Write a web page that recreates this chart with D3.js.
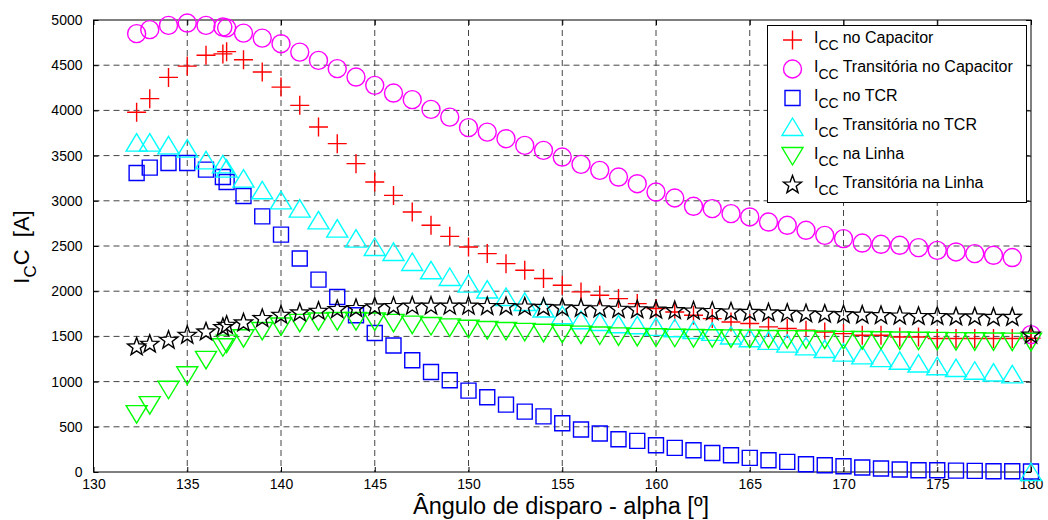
<!DOCTYPE html>
<html>
<head>
<meta charset="utf-8">
<script src="https://cdn.jsdelivr.net/npm/d3@7"></script>
<style>
  body { margin: 0; background: #fff; }
  svg { display: block; font-family: "Liberation Sans", Arial, sans-serif; }
  .grid line { stroke: #444; stroke-dasharray: 6,4; stroke-width: 1; }
  .tick text { font-size: 14px; fill: #000; }
</style>
</head>
<body>
<svg id="chart" width="1048" height="520"></svg>
<script>
// firing angle (deg)
var angles = [132.3, 133, 134, 135, 136, 136.9, 137.1, 138, 139, 140, 141, 142, 143, 144, 145, 146, 147, 148, 149, 150,
  151, 152, 153, 154, 155, 156, 157, 158, 159, 160, 161, 162, 163, 164, 165, 166, 167, 168, 169, 170,
  171, 172, 173, 174, 175, 176, 177, 178, 179, 180]

var iccCapacitor = [3980, 4130, 4365, 4490, 4610, 4625, 4650, 4560, 4424, 4258, 4056, 3816, 3632, 3411, 3208, 3060, 2876, 2729, 2607, 2489,
  2416, 2305, 2231, 2140, 2065, 1992, 1955, 1918, 1863, 1808, 1770, 1734, 1697, 1660, 1642, 1605, 1587, 1568, 1549, 1531,
  1512, 1512, 1494, 1494, 1476, 1476, 1476, 1476, 1476, 1480]

var iccTransCapacitor = [4849, 4893, 4940, 4966, 4940, 4922, 4913, 4855, 4800, 4738, 4645, 4553, 4462, 4369, 4277, 4192, 4119, 4011, 3926, 3809,
  3760, 3687, 3613, 3558, 3484, 3403, 3337, 3263, 3189, 3097, 3031, 2939, 2913, 2858, 2821, 2765, 2729, 2674, 2618, 2582,
  2533, 2519, 2508, 2482, 2452, 2434, 2416, 2397, 2372, 1520]

var iccTcr = [3307, 3367, 3418, 3418, 3345, 3263, 3208, 3053, 2828, 2626, 2361, 2128, 1936, 1734, 1538, 1400, 1237, 1107, 1015, 900,
  827, 745, 668, 615, 540, 470, 426, 363, 344, 296, 267, 241, 211, 186, 156, 130, 112, 86, 75, 64,
  50, 39, 28, 20, 20, 15, 12, 8, 8, 5]

var iccTransTcr = [3643, 3643, 3613, 3577, 3447, 3403, 3356, 3245, 3116, 3005, 2913, 2784, 2692, 2582, 2489, 2434, 2323, 2231, 2157, 2084,
  2018, 1936, 1881, 1808, 1734, 1679, 1660, 1634, 1623, 1605, 1590, 1570, 1550, 1510, 1480, 1450, 1420, 1390, 1360, 1320,
  1290, 1260, 1230, 1200, 1170, 1150, 1120, 1100, 1080, 0]

var iccLinha = [640, 740, 910, 1070, 1240, 1380, 1420, 1480, 1560, 1610, 1650, 1665, 1670, 1670, 1665, 1650, 1630, 1615, 1600, 1585,
  1570, 1560, 1550, 1540, 1530, 1520, 1510, 1500, 1495, 1490, 1485, 1482, 1480, 1478, 1475, 1472, 1470, 1468, 1465, 1462,
  1460, 1458, 1455, 1452, 1450, 1448, 1446, 1444, 1442, 1440]

var iccTransLinha = [1383, 1413, 1457, 1512, 1549, 1598, 1623, 1649, 1697, 1734, 1760, 1778, 1797, 1808, 1826, 1830, 1835, 1835, 1835, 1835,
  1830, 1830, 1825, 1820, 1815, 1810, 1805, 1800, 1795, 1790, 1785, 1780, 1775, 1770, 1765, 1760, 1755, 1750, 1745, 1740,
  1735, 1730, 1725, 1720, 1720, 1715, 1715, 1710, 1710, 1515]

var seriesNames = ['no Capacitor', 'Transitória no Capacitor', 'no TCR', 'Transitória no TCR', 'na Linha', 'Transitória na Linha']
var seriesColors = ['#ff0000', '#ff00ff', '#0000ff', '#00ffff', '#00ff00', '#000000']
var seriesMarkers = ['plus', 'circle', 'square', 'up', 'down', 'star']
var seriesValues = [iccCapacitor, iccTransCapacitor, iccTcr, iccTransTcr, iccLinha, iccTransLinha]

var xTicks = [130, 135, 140, 145, 150, 155, 160, 165, 170, 175, 180]
var yTicks = [0, 500, 1000, 1500, 2000, 2500, 3000, 3500, 4000, 4500, 5000]

var margin = { left: 93.5, right: 1031, top: 20, bottom: 472 }
var svg = d3.select('#chart')

var x = d3.scaleLinear().domain([130, 180]).range([margin.left, margin.right])
var y = d3.scaleLinear().domain([0, 5000]).range([margin.bottom, margin.top])

// marker path by type, centred on 0,0
function markerPath (type) {
  var p = d3.path()
  if (type === 'plus') {
    p.moveTo(-9.5, 0); p.lineTo(9.5, 0); p.moveTo(0, -9.5); p.lineTo(0, 9.5)
  } else if (type === 'circle') {
    p.arc(0, 0, 9, 0, 2 * Math.PI)
  } else if (type === 'square') {
    p.rect(-7.5, -7.5, 15, 15)
  } else if (type === 'up') {
    p.moveTo(0, -9); p.lineTo(10.5, 8.5); p.lineTo(-10.5, 8.5); p.closePath()
  } else if (type === 'down') {
    p.moveTo(0, 9); p.lineTo(10.5, -8.5); p.lineTo(-10.5, -8.5); p.closePath()
  } else if (type === 'star') {
    for (var i = 0; i < 10; i++) {
      var r = i % 2 === 0 ? 9.5 : 3.9
      var a = -Math.PI / 2 + i * Math.PI / 5
      if (i === 0) p.moveTo(r * Math.cos(a), r * Math.sin(a))
      else p.lineTo(r * Math.cos(a), r * Math.sin(a))
    }
    p.closePath()
  }
  return p.toString()
}

// grid
var grid = svg.append('g').attr('class', 'grid')
grid.selectAll('.gx').data(xTicks.slice(1, -1)).enter().append('line')
  .attr('x1', d => x(d)).attr('x2', d => x(d)).attr('y1', margin.top).attr('y2', margin.bottom)
grid.selectAll('.gy').data(yTicks.slice(1, -1)).enter().append('line')
  .attr('x1', margin.left).attr('x2', margin.right).attr('y1', d => y(d)).attr('y2', d => y(d))

// axes
var xAxis = d3.axisBottom(x).tickValues(xTicks).tickSizeInner(-5).tickSizeOuter(0).tickPadding(7).tickFormat(d3.format('d'))
var yAxis = d3.axisLeft(y).tickValues(yTicks).tickSizeInner(-5).tickSizeOuter(0).tickPadding(11).tickFormat(d3.format('d'))
svg.append('g').attr('transform', 'translate(0,' + margin.bottom + ')').call(xAxis)
svg.append('g').attr('transform', 'translate(' + margin.left + ',0)').call(yAxis)
svg.append('g').attr('transform', 'translate(0,' + margin.top + ')')
  .call(d3.axisTop(x).tickValues(xTicks).tickSizeInner(-5).tickSizeOuter(0).tickFormat(''))
svg.append('g').attr('transform', 'translate(' + margin.right + ',0)')
  .call(d3.axisRight(y).tickValues(yTicks).tickSizeInner(-5).tickSizeOuter(0).tickFormat(''))
svg.selectAll('.domain').remove()
svg.selectAll('.tick line').attr('stroke', '#000')

// box
svg.append('rect').attr('x', margin.left).attr('y', margin.top)
  .attr('width', margin.right - margin.left).attr('height', margin.bottom - margin.top)
  .attr('fill', 'none').attr('stroke', '#000').attr('stroke-width', 1)

// series
seriesValues.forEach(function (vals, si) {
  svg.append('g').selectAll('path').data(vals).enter().append('path')
    .attr('d', markerPath(seriesMarkers[si]))
    .attr('transform', (d, i) => 'translate(' + x(angles[i]) + ',' + y(d) + ')')
    .attr('fill', 'none').attr('stroke', seriesColors[si]).attr('stroke-width', 1.4)
})

// axis labels
svg.append('text').attr('x', 561).attr('y', 514).attr('text-anchor', 'middle')
  .attr('font-size', 23.5).text('Ângulo de disparo - alpha [º]')

var yl = svg.append('text').attr('transform', 'translate(29,247) rotate(-90)')
  .attr('text-anchor', 'middle').attr('font-size', 22)
yl.append('tspan').text('I')
yl.append('tspan').attr('dy', 7).attr('font-size', 17).text('C')
yl.append('tspan').attr('dy', -7).text('C  [A]').attr('xml:space', 'preserve')

// legend
var lg = svg.append('g')
lg.append('rect').attr('x', 767.5).attr('y', 25.5).attr('width', 259).attr('height', 177)
  .attr('fill', '#fff').attr('stroke', '#000').attr('stroke-width', 1)
seriesNames.forEach(function (name, i) {
  var cy = 40 + i * 29
  lg.append('path').attr('d', markerPath(seriesMarkers[i]))
    .attr('transform', 'translate(792.5,' + cy + ')')
    .attr('fill', 'none').attr('stroke', seriesColors[i]).attr('stroke-width', 1.4)
  var t = lg.append('text').attr('x', 814).attr('y', cy + 3).attr('font-size', 16)
  t.append('tspan').text('I')
  t.append('tspan').attr('dy', 7).attr('font-size', 14).text('CC')
  t.append('tspan').attr('dy', -7).attr('dx', 4).text(name)
})
</script>
</body>
</html>
